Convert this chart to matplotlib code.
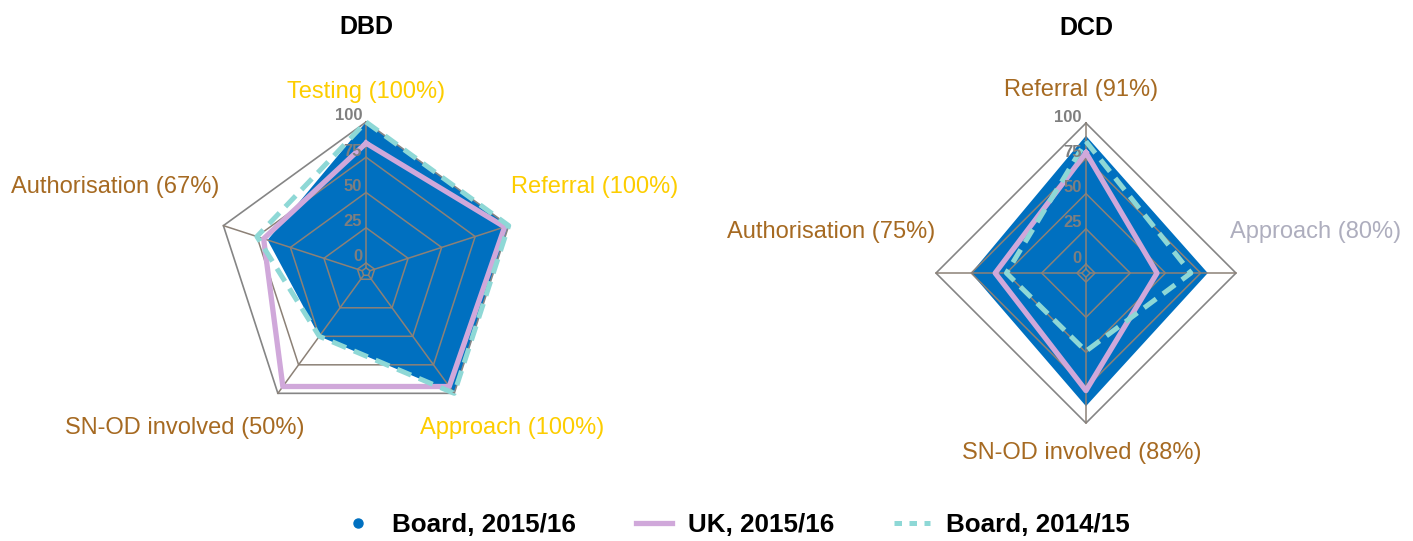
import numpy as np
import matplotlib.pyplot as plt
from matplotlib.lines import Line2D

plt.rcParams['font.family'] = ['Liberation Sans', 'DejaVu Sans']

# data
dbd_axes = ['Testing (100%)', 'Referral (100%)', 'Approach (100%)',
            'SN-OD involved (50%)', 'Authorisation (67%)']
dbd_board_1516 = [100, 100, 100, 50, 67]
dbd_uk_1516 = [85, 97, 94, 94, 70]
dbd_board_1415 = [100, 100, 100, 50, 75]

dcd_axes = ['Referral (91%)', 'Approach (80%)', 'SN-OD involved (88%)',
            'Authorisation (75%)']
dcd_board_1516 = [91, 80, 88, 75]
dcd_uk_1516 = [79, 44, 77, 58]
dcd_board_1415 = [87, 68, 49, 50]

ring_values = [0, 25, 50, 75, 100]

GOLD = '#FDCD00'
BROWN = '#A66A22'
GREY_LBL = '#AEAEBE'
dbd_label_colors = [GOLD, GOLD, GOLD, BROWN, BROWN]
dcd_label_colors = [BROWN, GREY_LBL, BROWN, BROWN]

# pixel offsets (x, y) of each category label from its outer vertex, and alignment
dbd_label_pos = [((0, 30), 'center'), ((2, 39), 'left'), ((-34, -35), 'left'),
                 ((27, -35), 'right'), ((-4, 39), 'right')]
dcd_label_pos = [((-5, 33), 'center'), ((-6, 41), 'left'), ((-4, -30), 'center'),
                 ((-1, 41), 'right')]

BLUE = '#0070C0'
PINK = '#D0A8DA'
TEAL = '#8ED8D6'
GRID = '#8C8177'
FRAME = '#858585'
RMIN = -6.4


def closed(vals):
    return list(vals) + [vals[0]]


def radar(ax, labels, board, uk, prev, label_colors, label_pos, title):
    n = len(labels)
    theta = np.linspace(0, 2 * np.pi, n, endpoint=False)
    th = closed(theta)
    ax.set_theta_offset(np.pi / 2)
    ax.set_theta_direction(-1)
    ax.set_rlim(RMIN, 100)
    ax.set_xticks([])
    ax.set_yticks([])
    ax.grid(False)
    ax.spines['polar'].set_visible(False)
    ax.patch.set_visible(False)

    ax.fill(th, closed(board), color=BLUE, lw=0, zorder=1)

    for v in [-3.5] + ring_values[:-1]:
        ax.plot(th, [v] * (n + 1), color=GRID, lw=1.1, zorder=2, clip_on=False)
    ax.plot(th, [100] * (n + 1), color=FRAME, lw=1.2, zorder=2, clip_on=False)
    for t in theta:
        ax.plot([t, t], [-3.5, 100], color=GRID, lw=1.1, zorder=2, clip_on=False)

    ax.plot(th, closed(uk), color=PINK, lw=3.8, zorder=3, clip_on=False)
    ax.plot(th, closed(prev), color=TEAL, lw=3.6, ls=(0, (3, 1.7)), zorder=4,
            clip_on=False)

    for v in ring_values:
        ax.annotate(str(v), xy=(0, v), xytext=(-4, 6), textcoords='offset pixels',
                    ha='right', va='center', fontsize=12, fontweight='bold',
                    color='#7F7F7F', zorder=5, annotation_clip=False)

    for t, lab, c, (off, ha) in zip(theta, labels, label_colors, label_pos):
        ax.annotate(lab, xy=(t, 100), xytext=off, textcoords='offset pixels',
                    ha=ha, va='center', fontsize=17, color=c,
                    annotation_clip=False)

    ax.annotate(title, xy=(0, 100), xytext=(0, 95), textcoords='offset pixels',
                ha='center', va='center', fontsize=18, fontweight='bold',
                color='black', annotation_clip=False)


fig = plt.figure(figsize=(14.13, 5.41), dpi=100)
ax1 = fig.add_axes([0.1529, 0.22, 0.2123, 0.5545], projection='polar')
ax2 = fig.add_axes([0.6624, 0.218, 0.2123, 0.5545], projection='polar')

radar(ax1, dbd_axes, dbd_board_1516, dbd_uk_1516, dbd_board_1415,
      dbd_label_colors, dbd_label_pos, 'DBD')
radar(ax2, dcd_axes, dcd_board_1516, dcd_uk_1516, dcd_board_1415,
      dcd_label_colors, dcd_label_pos, 'DCD')

handles = [
    Line2D([], [], marker='o', color=BLUE, ls='none', markersize=6.5),
    Line2D([], [], color=PINK, lw=3.8),
    Line2D([], [], color=TEAL, lw=3.6, ls=(0, (1.5, 1.5))),
]
fig.legend(handles, ['Board, 2015/16', 'UK, 2015/16', 'Board, 2014/15'],
           loc='center', bbox_to_anchor=(0.52, 0.03), ncol=3, frameon=False,
           prop={'size': 18.7, 'weight': 'bold'}, handlelength=1.4,
           handletextpad=0.6, columnspacing=2.3)

fig.savefig('out.png', dpi=100)
